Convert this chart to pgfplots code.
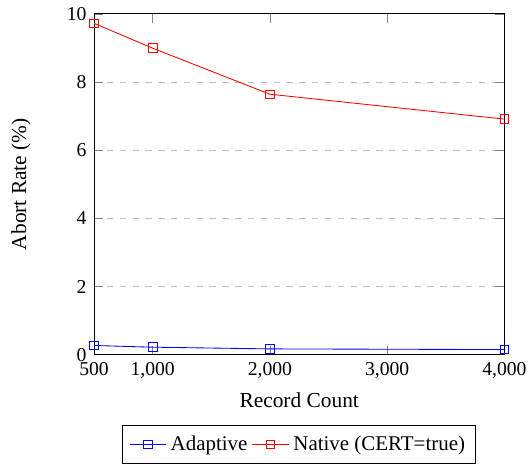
\documentclass[border=0pt]{standalone}
\usepackage{pgfplots}
\pgfplotsset{compat=1.18}
\usepackage{fontspec}
\setmainfont{Liberation Serif}
\begin{document}
\begin{tikzpicture}[trim right={([xshift=11.5pt]current axis.south east)}]
\begin{axis}[
  scale only axis,
  width=192pt, height=159.5pt,
  xmin=500, xmax=4000, ymin=0, ymax=10,
  xtick={500,1000,2000,3000,4000},
  ytick={0,2,4,6,8,10},
  ymajorgrids, grid style={dashed, gray!50},
  xlabel={Record Count}, ylabel={Abort Rate (\%)},
  ylabel shift=10pt,
  tick label style={font=\fontsize{9.2pt}{10pt}\selectfont},
  /pgf/number format/assume math mode=true,
  legend style={at={(0.5,0)}, anchor=north, yshift=-33pt, legend columns=2, inner ysep=2.6pt, font=\fontsize{9.8pt}{11pt}\selectfont},
  legend cell align=left,
]
\addplot[blue, mark=square] coordinates {(500,0.27) (1000,0.22) (2000,0.17) (4000,0.15)};
\addlegendentry{Adaptive}
\addplot[red, mark=square] coordinates {(500,9.72) (1000,8.99) (2000,7.64) (4000,6.91)};
\addlegendentry{Native (CERT=true)}
\end{axis}
\path ([xshift=-2pt]current bounding box.west);
\end{tikzpicture}
\end{document}
